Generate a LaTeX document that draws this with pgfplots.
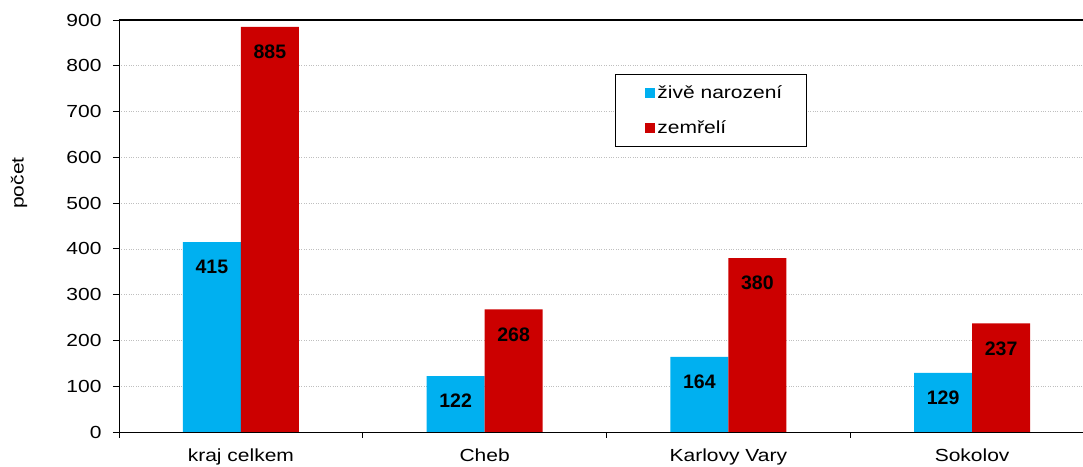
\documentclass[border=0pt]{standalone}
\usepackage{pgfplots}
\pgfplotsset{compat=1.18}
\usepackage{fontspec}
\setmainfont{Liberation Sans}[FakeStretch=1.2]
\newfontfamily\labfont{Liberation Sans}
\definecolor{cblue}{RGB}{0,176,240}
\definecolor{cred}{RGB}{204,0,0}
\begin{document}
\begin{tikzpicture}
\begin{axis}[
  name=ax,
  scale only axis,
  width=964pt, height=412pt,
  ybar=0pt, bar width=58pt,
  xmin=-0.5, xmax=3.455,
  ymin=0, ymax=900,
  ytick={0,100,...,900},
  xtick={0,1,2,3},
  xticklabels={kraj celkem,Cheb,Karlovy Vary,Sokolov},
  minor xtick={-0.5,0.5,1.5,2.5},
  major x tick style={draw=none},
  minor tick length=6pt,
  major tick length=6pt,
  tick align=outside,
  axis x line*=bottom, axis y line*=left,
  axis line style={black, line width=0.9pt},
  tick style={black, line width=0.9pt},
  ymajorgrids,
  grid style={dotted, gray!50, line width=0.6pt},
  extra y ticks={900}, extra y tick labels={},
  extra y tick style={grid style={solid, black, line width=1.3pt}},
  /pgf/number format/assume math mode=true,
  ticklabel style={font=\fontsize{17.5}{20}\selectfont},
  yticklabel style={xshift=-8pt},
  xticklabel style={yshift=-7pt},
  ylabel={počet},
  every axis y label/.style={at={(axis description cs:-0.1037,0.604)}, rotate=90, anchor=center, font=\fontsize{17.5}{20}\selectfont},
  nodes near coords,
  every node near coord/.append style={anchor=center, yshift=-25pt, font=\labfont\fontsize{19.5}{20}\selectfont\bfseries, black},
  legend style={at={(axis description cs:0.5145,0.869)}, anchor=north west, draw=black, line width=0.9pt,
    font=\fontsize{17.5}{20}\selectfont, inner xsep=22pt, inner ysep=9pt, row sep=17pt,
    /tikz/every even column/.append style={column sep=0pt}},
  legend cell align=left,
  legend image code/.code={\path (0pt,0pt); \fill[#1, draw=none] (8pt,-5pt) rectangle (18pt,5pt);},
]
\addplot[fill=cblue, draw=none] coordinates {(0,415) (1,122) (2,164) (3,129)};
\addplot[fill=cred, draw=none] coordinates {(0,885) (1,268) (2,380) (3,237)};
\legend{živě narození, zemřelí}
\end{axis}
\path (ax.south west) ++(-119pt,-35pt) coordinate (bl);
\path (ax.north east) ++(0pt,20pt) coordinate (tr);
\pgfresetboundingbox
\path[use as bounding box] (bl) rectangle (tr);
\end{tikzpicture}
\end{document}
